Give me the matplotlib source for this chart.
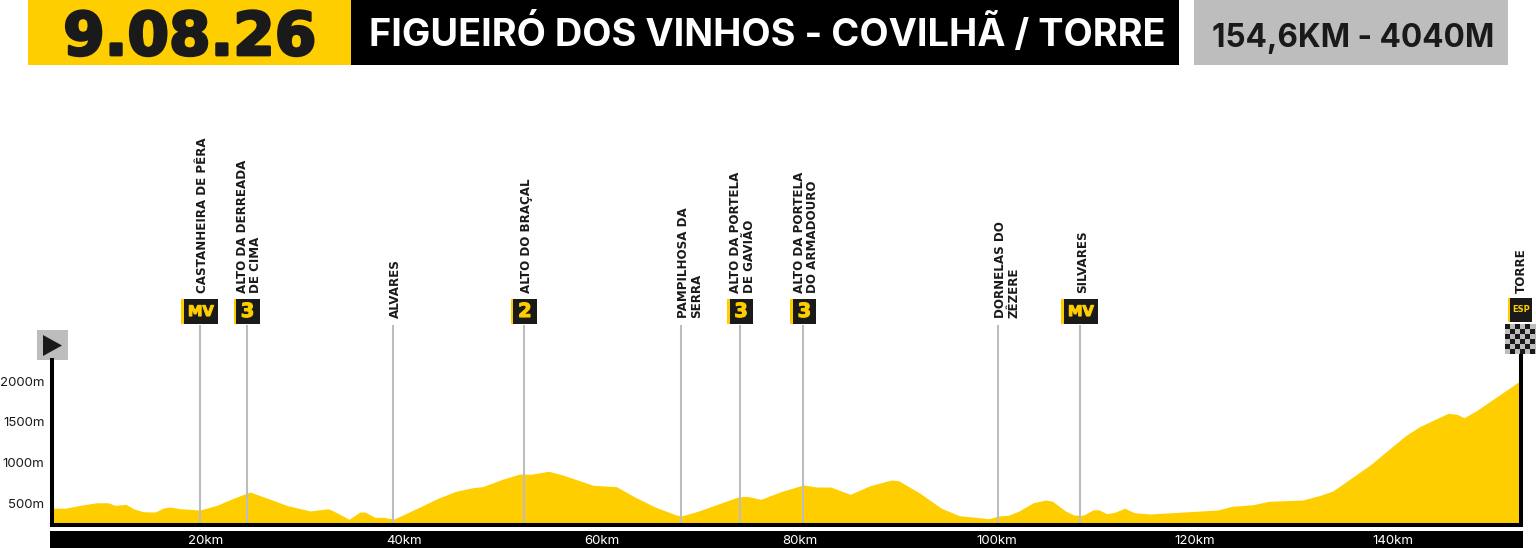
import numpy as np
import matplotlib
matplotlib.use("Agg")
import matplotlib.pyplot as plt
import matplotlib.patheffects as pe
from matplotlib.patches import Rectangle, Polygon

# route profile, km on the printed scale / metres
km = [4.38, 5.74, 7.26, 8.95, 10.12, 10.8, 11.91, 12.65, 13.66, 14.84, 15.68, 16.36, 17.37, 19.39,
      21.08, 22.76, 24.45, 26.14, 28.16, 30.52, 32.37, 33.22, 34.46, 35.57, 36.08, 37.09, 37.93, 39.01,
      41.64, 43.45, 45.25, 46.95, 47.96, 49.95, 51.75, 52.83, 54.64, 56.08, 59.15, 61.5, 63.3, 65.47,
      67.64, 68.18, 69.8, 73.78, 74.68, 76.12, 78.1, 80.39, 81.72, 83.17, 85.15, 87.14, 89.3, 90.03,
      92.2, 94.36, 96.17, 98.26, 99.16, 100.12, 101.13, 102.2, 103.64, 104.9, 105.6, 106.86, 107.76,
      108.66, 109.73, 110.27, 111.09, 111.88, 112.89, 113.85, 115.47, 122.28, 123.71, 125.86, 127.48,
      130.88, 132.67, 133.93, 137.7, 141.28, 142.71, 145.58, 146.48, 147.2, 148.45, 152.96]
elevation = [442, 439, 475, 507, 507, 475, 488, 434, 397, 393, 442, 455, 434, 418,
             475, 561, 639, 565, 475, 406, 434, 385, 304, 393, 393, 328, 328, 307,
             455, 561, 647, 691, 704, 794, 860, 856, 893, 847, 721, 704, 581, 451,
             353, 348, 405, 577, 586, 549, 642, 725, 700, 700, 610, 716, 786, 777,
             623, 439, 348, 323, 311, 344, 353, 405, 507, 540, 525, 409, 356,
             353, 421, 421, 372, 390, 439, 385, 369, 418, 463, 483, 525,
             540, 598, 651, 970, 1329, 1440, 1604, 1592, 1550, 1636, 2010]

km_ticks = [20, 40, 60, 80, 100, 120, 140]
elev_ticks = [500, 1000, 1500, 2000]

# places along the route
place_km = [19.39, 24.1, 38.9, 52.15, 68.03, 74.0, 80.4, 100.1, 108.37]
place_names = ["CASTANHEIRA DE PÊRA", "ALTO DA DERREADA\nDE CIMA", "ALVARES", "ALTO DO BRAÇAL",
               "PAMPILHOSA DA\nSERRA", "ALTO DA PORTELA\nDE GAVIÃO", "ALTO DA PORTELA\nDO ARMADOURO",
               "DORNELAS DO\nZÊZERE", "SILVARES"]
place_badges = ["MV", "3", "", "2", "", "3", "3", "", "MV"]

YELLOW = "#FFCE00"
DARK = "#1A1A1A"
GREY = "#BDBDBD"
BOLD = "DejaVu Sans"
BODY = ["Inter", "DejaVu Sans"]

W, H = 1536, 548
fig = plt.figure(figsize=(W / 100, H / 100), dpi=100)

# pixel canvas behind the chart, for the header and the badges
deco = fig.add_axes([0, 0, 1, 1], zorder=0)
deco.set_xlim(0, W)
deco.set_ylim(H, 0)
deco.axis("off")

ax = fig.add_axes([51.5 / W, (H - 525) / H, 1469.5 / W, 165 / H], zorder=1)
ax.patch.set_alpha(0)
ax.set_xlim(4.38, 152.96)
ax.set_ylim(234, 2258)

ax.fill_between(km, elevation, 0, color=YELLOW, lw=0, zorder=1)

line_top = 2688
ax.vlines(place_km, 234, line_top, color=GREY, lw=1.5, clip_on=False, zorder=2)

for side in ["left", "right", "bottom"]:
    ax.spines[side].set_linewidth(2.9)
    ax.spines[side].set_color("black")
    ax.spines[side].set_zorder(3)
ax.spines["top"].set_visible(False)

ax.set_xticks(km_ticks)
ax.set_xticklabels([f"{k}km" for k in km_ticks], color="white", fontsize=9.5, family=BODY)
ax.set_yticks(elev_ticks)
ax.set_yticklabels([f"{e}m" for e in elev_ticks], color=DARK, fontsize=9.5, family=BODY)
ax.tick_params(axis="x", length=0, pad=7)
ax.tick_params(axis="y", length=0, pad=5)


def box(x0, y0, x1, y1, color, **kw):
    deco.add_patch(Rectangle((x0, y0), x1 - x0, y1 - y0, facecolor=color, edgecolor="none", **kw))


def heavy(width, color):
    return [pe.withStroke(linewidth=width, foreground=color)]


# header
box(28, 0, 351, 65, YELLOW)
box(351, 0, 1179, 65, "black")
box(1194, 0, 1508, 65, GREY)
deco.text(190, 55, "9.08.26", color=DARK, fontsize=43, family=BOLD, weight="bold", ha="center", va="baseline",
          path_effects=heavy(2, DARK))
deco.text(767.5, 46.5, "FIGUEIRÓ DOS VINHOS - COVILHÃ / TORRE", color="white", fontsize=27.3, family=BODY,
          weight="bold", ha="center", va="baseline")
deco.text(1353, 46.5, "154,6KM - 4040M", color=DARK, fontsize=22.7, family=BODY, weight="bold",
          ha="center", va="baseline")

# km bar under the profile
box(50, 531, 1523, 548, "black")

# start flag
box(37, 330, 68, 360, GREY)
deco.add_patch(Polygon([(43, 335), (43, 356), (62, 345.5)], facecolor=DARK, edgecolor="none"))


def to_px(k):
    return ax.transData.transform((k, 0))[0]


def badge(cx, label, width, size=12):
    x0, x1 = cx - width / 2, cx + width / 2
    box(x0, 299, x1, 324, DARK)
    box(x0, 299, x0 + 2.5, 324, YELLOW)
    deco.text(cx + 1, 311.5, label, color=YELLOW, fontsize=size, family=BOLD, weight="bold",
              ha="center", va="center", path_effects=heavy(0.8, YELLOW))


label_shift = [2.5, 2.5, 2.5, 2.5, 9, 2.5, 2.5, 9, 2.5]
for k, name, b, shift in zip(place_km, place_names, place_badges, label_shift):
    cx = to_px(k)
    if b:
        badge(cx, b, 37 if b == "MV" else 26, 10.5 if b == "MV" else 14)
    deco.text(cx + shift, 293 if b else 318, name, rotation=90, ha="center", va="bottom", ma="left",
              fontsize=8.6, family=BOLD, weight="bold", color=DARK, linespacing=1.05)

# finish: badge, checker and name
finish_px = to_px(152.96)
box(1508, 298, 1532, 322, DARK)
box(1508, 298, 1510, 322, YELLOW)
deco.text(1521, 310, "ESP", color=YELLOW, fontsize=6, family=BOLD, weight="bold", ha="center", va="center")
deco.text(1521, 293, "TORRE", rotation=90, ha="center", va="bottom", fontsize=8.6, family=BOLD,
          weight="bold", color=DARK)
box(1505, 324, 1536, 354, GREY)
cell = 30 / 6
for row in range(6):
    for col in range(6):
        if (row + col) % 2 == 0:
            box(1505 + col * cell, 324 + row * cell, 1505 + (col + 1) * cell, 324 + (row + 1) * cell, DARK)
deco.plot([finish_px, finish_px], [354, 361], color="black", lw=2.9, solid_capstyle="butt")

fig.savefig("out.png", dpi=100)
plt.close(fig)
